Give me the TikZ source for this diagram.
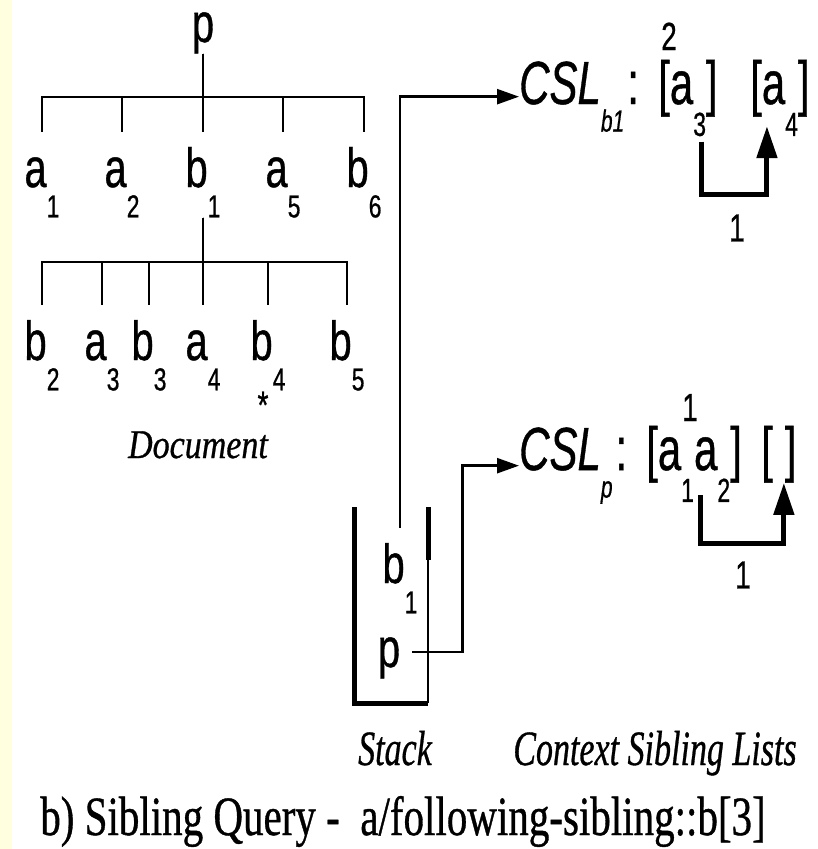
\documentclass[tikz,border=0pt]{standalone}
\usepackage{fontspec}
\setmainfont[FakeBold=0.8]{Liberation Serif}
\setsansfont[FakeBold=0.8]{Liberation Sans}
\usetikzlibrary{arrows.meta}
\definecolor{strip}{HTML}{FFFFE0}
\newcommand{\lowsub}[1]{\raisebox{-22pt}{\fontsize{23}{23}\selectfont #1}}
\newcommand{\cslsub}[1]{\raisebox{-19pt}{\fontsize{21}{21}\selectfont #1}}

\begin{document}
\begin{tikzpicture}[x=1pt, y=-1pt,
    lab/.style={font=\sffamily\fontsize{40}{40}\selectfont, yscale=1.38,
      inner sep=0pt, anchor=base, text height=40pt},
    lst/.style={font=\sffamily\fontsize{42}{42}\selectfont, yscale=1.45,
      inner sep=0pt, anchor=base west},
    num/.style={font=\sffamily\fontsize{28}{28}\selectfont, yscale=1.4, inner sep=0pt},
    note/.style={font=\itshape\fontsize{34}{34}\selectfont, inner sep=0pt, anchor=base},
    tree/.style={line width=2pt},
    link/.style={-{Triangle[length=22pt,width=15pt]}, line width=2.5pt},
    hop/.style={-{Triangle[length=32pt,width=20pt]}, line width=5pt},
    wall/.style={line width=5pt},
  ]
  % page
  \fill[white] (0,0) rectangle (818,849);
  \fill[strip] (0,0) rectangle (12,849);
  \useasboundingbox (0,0) rectangle (818,849);
  % document tree
  \node[lab, text height=22pt] (p) at (203,42) {p};
  \node[lab] (a1) at (42,187) {a\lowsub{1}};
  \node[lab] (a2) at (122,187) {a\lowsub{2}};
  \node[lab] (b1) at (203,187) {b\lowsub{1}};
  \node[lab] (a5) at (283,187) {a\lowsub{5}};
  \node[lab] (b6) at (364,187) {b\lowsub{6}};
  \node[lab] (b2) at (42,360) {b\lowsub{2}};
  \node[lab] (a3) at (102,360) {a\lowsub{3}};
  \node[lab] (b3) at (149,360) {b\lowsub{3}};
  \node[lab] (a4) at (203,360) {a\lowsub{4}};
  \node[lab] (b4) at (268,360) {b\lowsub{4}};
  \node[lab] (b5) at (347,360) {b\lowsub{5}};
  \node[num] (star) at (263,405) {*};
  \node[note, yscale=1.2] (doc) at (198,458) {Document};
  \coordinate (bar1) at (0,97);
  \coordinate (bar2) at (0,262);
  \foreach \c in {a1,a2,b1,a5,b6}
    \draw[tree] (p.south) -- (p.south |- bar1) -| (\c.north);
  \foreach \c in {b2,a3,b3,a4,b4,b5}
    \draw[tree] (b1.south) -- (b1.south |- bar2) -| (\c.north);
  % stack
  \draw[wall] (428,507) -- (428,560);
  \draw[wall] (354,507) -- (354,703) -- (428,703);
  \draw[tree] (428,560) -- (428,703);
  \node[lab] (sb1) at (400,583) {b\lowsub{1}};
  \node[lab] (sp) at (389,667) {p};
  \node[note, yscale=1.45] (stk) at (395,765) {Stack};
  % context sibling lists
  \node[lst] (cslb) at (519,104) {{\itshape CSL\cslsub{b1}}\hspace{3pt}:};
  \node[lst] (lb1) at (658,104) {[a\lowsub{3}]};
  \node[lst] (lb2) at (750,104) {[a\lowsub{4}]};
  \node[num, anchor=base] (nb) at (669,50) {2};
  \node[num] (hb) at (737,228) {1};
  \node[lst] (cslp) at (519,470) {{\itshape CSL\cslsub{p}}\hspace{3pt}:};
  \node[lst] (lp1) at (646,470) {[a\lowsub{1}a\lowsub{2}]};
  \node[lst] (lp2) at (761,470) {[\hspace{12pt}]};
  \node[num, anchor=base] (np) at (690,421) {1};
  \node[num] (hp) at (743,575) {1};
  \node[note, yscale=1.45] (ctx) at (655,765) {Context Sibling Lists};
  % pointers
  \draw[link] (sb1.north) |- (cslb.west);
  \draw[link] ([shift={(12,7)}]sp.east) -- ++(50,0) |- (cslp.west);
  \draw[hop] ([shift={(14,5)}]lb1.south) -- ++(0,53) -| ([shift={(-13,-10)}]lb2.south);
  \draw[hop] ([shift={(6,-7)}]lp1.south) -- ++(0,48) -| ([shift={(5,0)}]lp2.south);
  % caption
  \node[font=\fontsize{41}{41}\selectfont, yscale=1.35, inner sep=0pt, anchor=base] (title)
    at (403,835) {b) Sibling Query -\ \ a/following-sibling::b[3]};
\end{tikzpicture}
\end{document}
